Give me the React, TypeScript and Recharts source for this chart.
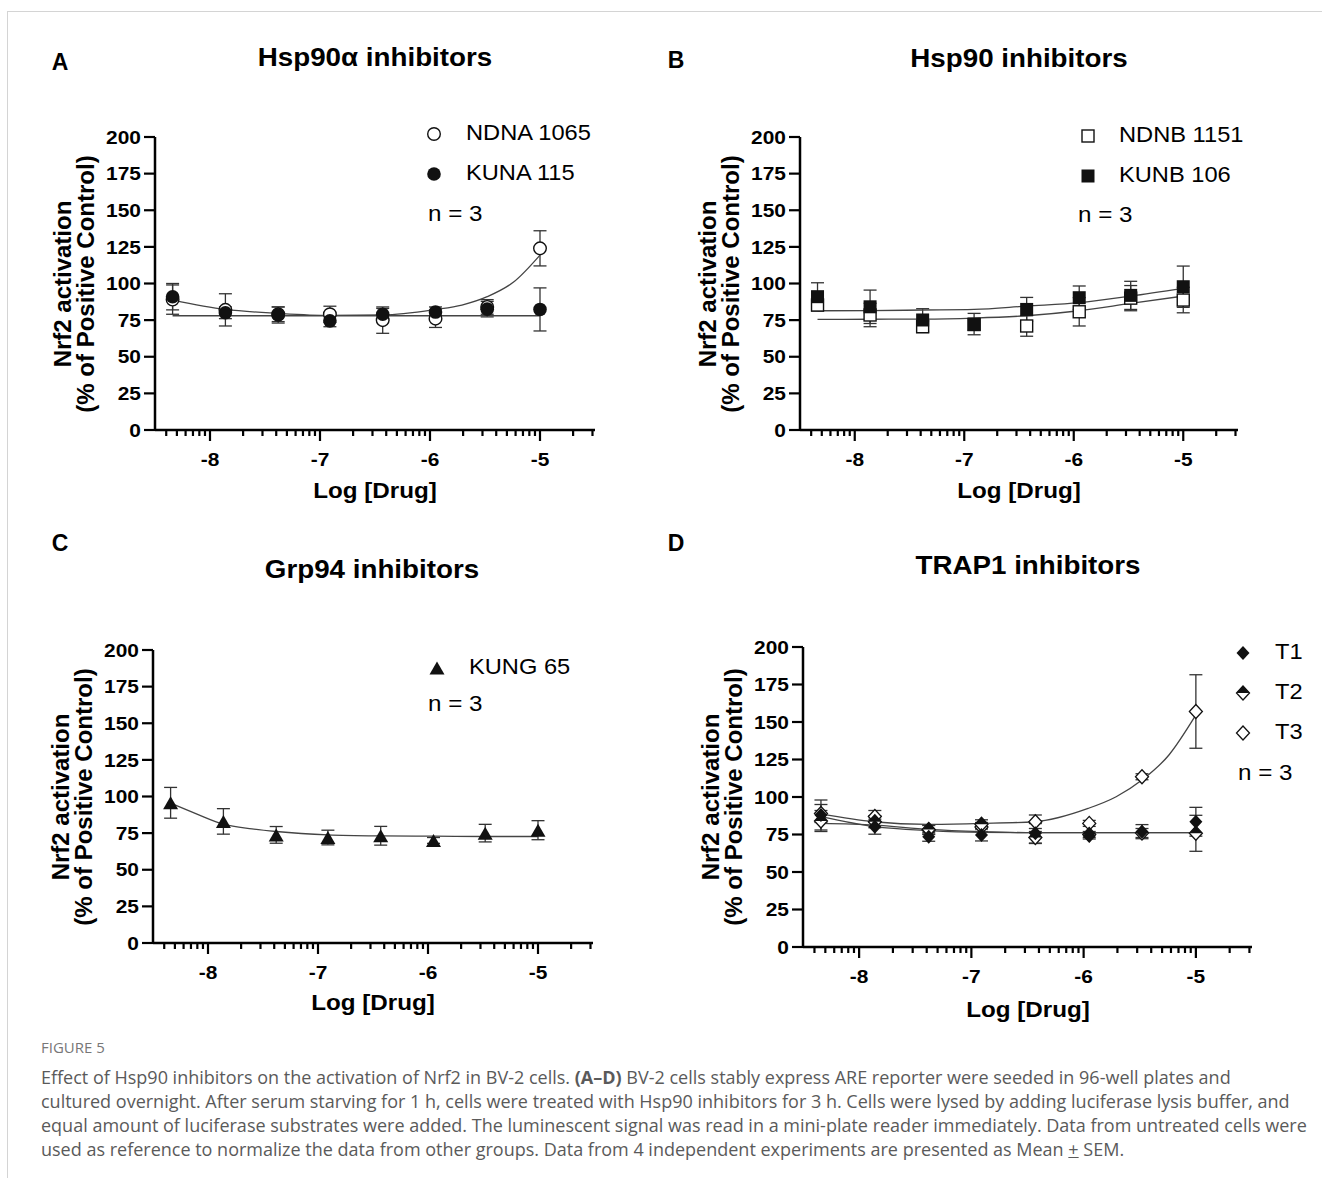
import React from "react";
import { ComposedChart, Line, Scatter, XAxis, YAxis, ErrorBar } from "recharts";

// log10 [drug] (M), 3-fold dilutions
const doses = [-8.34, -7.86, -7.38, -6.91, -6.43, -5.95, -5.48, -5.0];

// A - Hsp90a inhibitors
const ndna1065 = [89, 82, 79, 79, 75, 76, 84, 124];
const ndna1065Sem = [10, 11, 5, 5.5, 9, 6, 5, 12];
const kuna115 = [91, 80, 78.5, 74.5, 79, 80.5, 82.5, 82.3];
const kuna115Sem = [9, 4, 5.5, 4, 4, 3.5, 5.3, 14.7];
const ndna1065FitX = [-8.34, -7.86, -7.38, -6.91, -6.43, -5.95, -5.71, -5.48, -5.24, -5.0];
const ndna1065Fit = [88.7, 82.3, 79.6, 78.2, 78.5, 82.3, 85.3, 91, 101, 119.4];
const kuna115FitX = [-8.34, -5.0];
const kuna115Fit = [78, 78];

// B - Hsp90 inhibitors
const ndnb1151 = [85.3, 78.5, 70.5, 72, 71, 80.7, 90, 88.7];
const ndnb1151Sem = [4, 8, 4, 4, 7, 9.7, 8.6, 8.7];
const kunb106 = [91, 84.1, 75.1, 72.3, 82.3, 90.3, 91.9, 97.8];
const kunb106Sem = [9.5, 11.4, 7.7, 7.3, 8.2, 8, 9.6, 14.1];
const ndnb1151Fit = [75.5, 75.6, 75.7, 76.4, 78, 81.4, 86.4, 91.4];
const kunb106Fit = [81.4, 81.5, 81.9, 82.3, 84.6, 86.9, 91.4, 96.7];

// C - Grp94 inhibitors
const kung65 = [95.7, 83, 73.8, 72, 73.2, 70, 75, 77];
const kung65Sem = [10.5, 8.7, 5.7, 5, 6.4, 2, 6, 6.5];
const kung65FitX = [-8.34, -8.1, -7.86, -7.6, -7.38, -6.91, -6.43, -5.95, -5.48, -5.0];
const kung65Fit = [95.5, 88, 81.1, 77.9, 76.1, 73.8, 73.1, 72.9, 72.7, 72.7];

// D - TRAP1 inhibitors
const t1 = [88, 80.2, 73.5, 74.7, 75.8, 74, 76.9, 83.5];
const t1Sem = [10, 5, 3, 4, 6.5, 2, 4.7, 9.6];
const t2 = [84, 83.5, 78.4, 81.8, 73, 75, 76, 75.8];
const t2Sem = [7, 4, 3, 3, 4, 2, 3, 12];
const t3 = [89, 87, 78, 80, 83.5, 82.4, 113.5, 157];
const t3Sem = [6, 4, 3, 3, 4.5, 2, 2, 24.5];
const t1Fit = [86.9, 80.2, 77.6, 76.4, 76.2, 76.2, 76.2, 76.2];
const t2Fit = [82.4, 81.3, 78.4, 76.9, 76.2, 76.2, 76.2, 76.2];
const t3FitX = [-8.34, -7.87, -7.39, -6.92, -6.44, -5.96, -5.71, -5.48, -5.24, -5.0];
const t3Fit = [88.7, 83.5, 81.8, 82.4, 83.5, 92.4, 100.2, 111.3, 128, 154.7];

// axes
const yTicks = [0, 25, 50, 75, 100, 125, 150, 175, 200];
const xMajor = [-8, -7, -6, -5];
const decades = [-9, -8, -7, -6, -5];
const minorMult = [2, 3, 4, 5, 6, 7, 8, 9];
const xDomain: [number, number] = [-8.5, -4.5];
const xTicks = [
  ...xMajor,
  ...decades.flatMap((d) => minorMult.map((m) => d + Math.log10(m))),
].filter((v) => v >= xDomain[0] && v <= xDomain[1]);

const ARIAL = "'Liberation Sans', Arial, sans-serif";
const INK = "#111";
const SX = 1.1; // the figure is a little wider than tall

const pts = (xs: number[], ys: number[], es?: number[]) =>
  xs.map((x, i) => ({ x, y: ys[i], e: es ? es[i] : 0 }));

function Marker({ kind, cx, cy }: { kind: string; cx: number; cy: number }) {
  const d = `${cx},${cy - 7} ${cx + 6.5},${cy} ${cx},${cy + 7} ${cx - 6.5},${cy}`;
  switch (kind) {
    case "circleOpen":
      return <circle cx={cx} cy={cy} r={6.3} fill="#fff" stroke={INK} strokeWidth={1.4} />;
    case "circle":
      return <circle cx={cx} cy={cy} r={6.8} fill={INK} />;
    case "squareOpen":
      return <rect x={cx - 6} y={cy - 6} width={12} height={12} fill="#fff" stroke={INK} strokeWidth={1.4} />;
    case "square":
      return <rect x={cx - 6.5} y={cy - 6.5} width={13} height={13} fill={INK} />;
    case "triangle":
      return (
        <polygon
          points={`${cx - 7.5},${cy + 6.5} ${cx + 7.5},${cy + 6.5} ${cx},${cy - 6.5}`}
          fill={INK}
        />
      );
    case "diamond":
      return <polygon points={d} fill={INK} />;
    case "diamondOpen":
      return <polygon points={d} fill="#fff" stroke={INK} strokeWidth={1.3} />;
    case "diamondHalf":
      return (
        <g>
          <polygon points={d} fill="#fff" stroke={INK} strokeWidth={1.3} />
          <polygon points={`${cx},${cy - 7} ${cx + 6.5},${cy} ${cx - 6.5},${cy}`} fill={INK} />
        </g>
      );
    default:
      return <g />;
  }
}

function LogTick(props: any) {
  const { x, y, payload } = props;
  const v = payload.value;
  const major = Math.abs(v - Math.round(v)) < 1e-6;
  return (
    <g>
      <line x1={x} x2={x} y1={y} y2={y + (major ? 11 : 6)} stroke="#000" strokeWidth={2.2} />
      {major && (
        <text
          x={x}
          y={y + 36}
          textAnchor="middle"
          fontFamily={ARIAL}
          fontSize={19}
          fontWeight={700}
          fill="#000"
          transform={`translate(${x} 0) scale(${SX} 1) translate(${-x} 0)`}
        >
          {v}
        </text>
      )}
    </g>
  );
}

function YTick(props: any) {
  const { x, y, payload } = props;
  return (
    <text
      x={x}
      y={y}
      dy="0.355em"
      textAnchor="end"
      fontFamily={ARIAL}
      fontSize={19}
      fontWeight={700}
      fill="#000"
      transform={`translate(${x} 0) scale(${SX} 1) translate(${-x} 0)`}
    >
      {payload.value}
    </text>
  );
}

type Series = {
  name: string;
  kind: string;
  y: number[];
  sem: number[];
  fitX: number[];
  fit: number[];
};

function Txt({
  x, y, size, bold, anchor = "middle", children, color = "#000", rotate = false, font = ARIAL, lh = 1, sx = 1,
}: any) {
  const tr = anchor === "middle" ? "translate(-50%,-50%)" : "translate(0,-50%)";
  return (
    <div
      style={{
        position: "absolute",
        left: x,
        top: y,
        transform: tr + ` scaleX(${sx})` + (rotate ? " rotate(-90deg)" : ""),
        transformOrigin: anchor === "middle" ? "50% 50%" : "0 50%",
        fontFamily: font,
        fontSize: size,
        fontWeight: bold ? 700 : 400,
        color,
        whiteSpace: "nowrap",
        lineHeight: lh,
        textAlign: "center",
      }}
    >
      {children}
    </div>
  );
}

function Panel({
  left, top, w, h, series, letter, letterPos, title, titlePos, xLabelY, legend, legendX, textX, nPos,
}: any) {
  return (
    <>
      <div style={{ position: "absolute", left: left - 60, top: top - 10 }}>
        <ComposedChart width={w + 70} height={h + 60} margin={{ top: 10, right: 10, bottom: 0, left: 0 }}>
          <XAxis
            type="number"
            dataKey="x"
            domain={xDomain}
            allowDataOverflow
            ticks={xTicks}
            interval={0}
            tick={(p: any) => <LogTick {...p} />}
            tickLine={false}
            tickSize={0}
            tickMargin={0}
            height={50}
            axisLine={{ stroke: "#000", strokeWidth: 2.5 }}
          />
          <YAxis
            type="number"
            dataKey="y"
            domain={[0, 200]}
            ticks={yTicks}
            interval={0}
            width={60}
            tickSize={11}
            tickMargin={3}
            tickLine={{ stroke: "#000", strokeWidth: 2.2 }}
            axisLine={{ stroke: "#000", strokeWidth: 2.5 }}
            tick={(p: any) => <YTick {...p} />}
          />
          {series.map((s: Series) => (
            <Scatter
              key={"err-" + s.name}
              data={pts(doses, s.y, s.sem)}
              dataKey="y"
              shape={() => <g />}
              isAnimationActive={false}
            >
              <ErrorBar dataKey="e" direction="y" width={6.5} stroke="#333" strokeWidth={1.3} />
            </Scatter>
          ))}
          {series.map((s: Series) => (
            <Line
              key={"fit-" + s.name}
              data={pts(s.fitX, s.fit)}
              dataKey="y"
              type="monotone"
              stroke="#444"
              strokeWidth={1.3}
              dot={false}
              activeDot={false}
              isAnimationActive={false}
            />
          ))}
          {series.map((s: Series) => (
            <Scatter
              key={"pts-" + s.name}
              data={pts(doses, s.y)}
              dataKey="y"
              shape={(p: any) => <Marker kind={s.kind} cx={p.cx} cy={p.cy} />}
              isAnimationActive={false}
            />
          ))}
        </ComposedChart>
      </div>
      <Txt x={letterPos[0]} y={letterPos[1]} size={23} bold>{letter}</Txt>
      <Txt x={titlePos[0]} y={titlePos[1]} size={25} bold sx={1.11}>{title}</Txt>
      <Txt x={left - 81} y={top + h / 2} size={24} bold rotate lh="23px">
        Nrf2 activation
        <br />
        (% of Positive Control)
      </Txt>
      <Txt x={left + w / 2} y={xLabelY} size={22} bold sx={SX}>Log [Drug]</Txt>
      {series.map((s: Series, i: number) => (
        <React.Fragment key={"lg-" + s.name}>
          <svg
            width={20}
            height={20}
            style={{ position: "absolute", left: legendX - 10, top: legend[i] - 10 }}
          >
            <Marker kind={s.kind} cx={10} cy={10} />
          </svg>
          <Txt x={textX} y={legend[i]} size={21.5} anchor="start" sx={SX}>{s.name}</Txt>
        </React.Fragment>
      ))}
      <Txt x={nPos[0]} y={nPos[1]} size={22} anchor="start" sx={SX}>n = 3</Txt>
    </>
  );
}

const seriesA: Series[] = [
  { name: "NDNA 1065", kind: "circleOpen", y: ndna1065, sem: ndna1065Sem, fitX: ndna1065FitX, fit: ndna1065Fit },
  { name: "KUNA 115", kind: "circle", y: kuna115, sem: kuna115Sem, fitX: kuna115FitX, fit: kuna115Fit },
];
const seriesB: Series[] = [
  { name: "NDNB 1151", kind: "squareOpen", y: ndnb1151, sem: ndnb1151Sem, fitX: doses, fit: ndnb1151Fit },
  { name: "KUNB 106", kind: "square", y: kunb106, sem: kunb106Sem, fitX: doses, fit: kunb106Fit },
];
const seriesC: Series[] = [
  { name: "KUNG 65", kind: "triangle", y: kung65, sem: kung65Sem, fitX: kung65FitX, fit: kung65Fit },
];
const seriesD: Series[] = [
  { name: "T3", kind: "diamondOpen", y: t3, sem: t3Sem, fitX: t3FitX, fit: t3Fit },
  { name: "T2", kind: "diamondHalf", y: t2, sem: t2Sem, fitX: doses, fit: t2Fit },
  { name: "T1", kind: "diamond", y: t1, sem: t1Sem, fitX: doses, fit: t1Fit },
];

const CAPTION_FONT = "'Open Sans', 'Noto Sans', sans-serif";
const CAPTION_GREY = "#5a5a5a";

export default function App() {
  return (
    <div style={{ position: "absolute", left: 0, top: 0, width: 1322, height: 1178, background: "#fff", overflow: "hidden" }}>
      <div style={{ position: "absolute", left: 7, top: 11, width: 1315, height: 1167, borderTop: "1.5px solid #d4d4d4", borderLeft: "1.5px solid #d4d4d4" }} />
      <Panel
        left={155} top={137} w={440} h={293} series={seriesA}
        letter="A" letterPos={[60, 62]} title="Hsp90α inhibitors" titlePos={[375, 57]}
        xLabelY={491} legend={[134, 174]} legendX={434} textX={466} nPos={[428, 214]}
      />
      <Panel
        left={800} top={137} w={438} h={293} series={seriesB}
        letter="B" letterPos={[676, 60]} title="Hsp90 inhibitors" titlePos={[1019, 58]}
        xLabelY={491} legend={[136, 176]} legendX={1088} textX={1119} nPos={[1078, 215]}
      />
      <Panel
        left={153} top={650} w={440} h={293} series={seriesC}
        letter="C" letterPos={[60, 543]} title="Grp94 inhibitors" titlePos={[372, 569]}
        xLabelY={1003} legend={[668]} legendX={437} textX={469} nPos={[428, 704]}
      />
      <Panel
        left={803} top={647} w={449} h={300} series={seriesD}
        letter="D" letterPos={[676, 543]} title="TRAP1 inhibitors" titlePos={[1028, 565]}
        xLabelY={1010} legend={[733, 693, 653]} legendX={1243} textX={1275} nPos={[1238, 773]}
      />
      <Txt x={41} y={1047} size={15} anchor="start" color="#777" font={CAPTION_FONT}>FIGURE 5</Txt>
      <Txt x={41} y={1077} size={18} anchor="start" color={CAPTION_GREY} font={CAPTION_FONT}>
        Effect of Hsp90 inhibitors on the activation of Nrf2 in BV-2 cells. <b>(A–D)</b> BV-2 cells stably express ARE reporter were seeded in 96-well plates and
      </Txt>
      <Txt x={41} y={1101} size={18} anchor="start" color={CAPTION_GREY} font={CAPTION_FONT}>
        cultured overnight. After serum starving for 1 h, cells were treated with Hsp90 inhibitors for 3 h. Cells were lysed by adding luciferase lysis buffer, and
      </Txt>
      <Txt x={41} y={1125} size={18} anchor="start" color={CAPTION_GREY} font={CAPTION_FONT}>
        equal amount of luciferase substrates were added. The luminescent signal was read in a mini-plate reader immediately. Data from untreated cells were
      </Txt>
      <Txt x={41} y={1149} size={18} anchor="start" color={CAPTION_GREY} font={CAPTION_FONT}>
        used as reference to normalize the data from other groups. Data from 4 independent experiments are presented as Mean <u>+</u> SEM.
      </Txt>
    </div>
  );
}
